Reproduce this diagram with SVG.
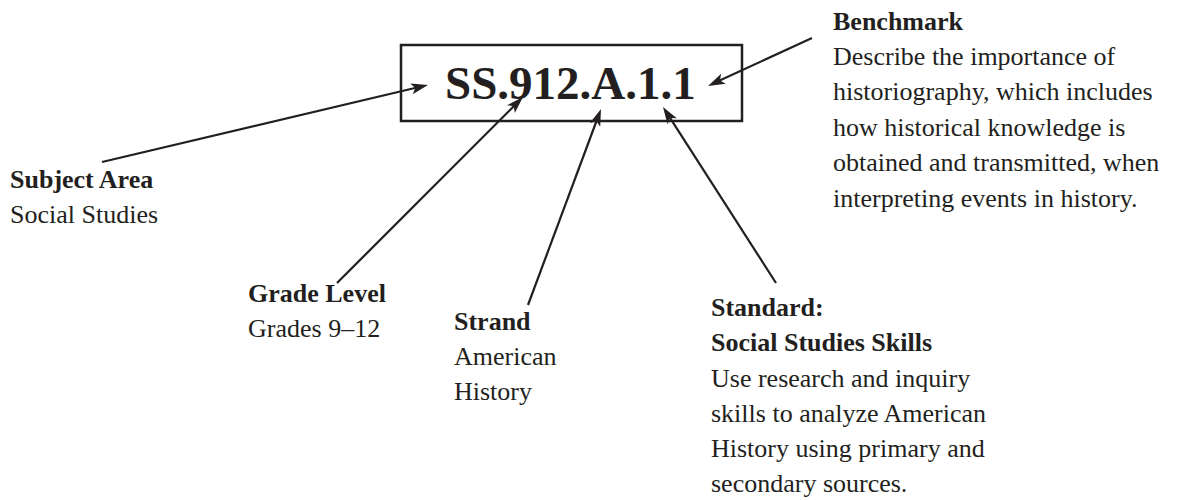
<svg xmlns="http://www.w3.org/2000/svg" width="1179" height="500" viewBox="0 0 1179 500">
<style>
text{font-family:"Liberation Serif","Times New Roman",serif;font-size:26px;fill:#231f20}
.b{font-weight:bold}
.code{font-size:47px;font-weight:bold}
.conn line{stroke:#231f20;stroke-width:2.2;fill:none}
</style>
<defs>
<marker id="ah" markerUnits="userSpaceOnUse" viewBox="-18 -7 19 14" markerWidth="19" markerHeight="14" refX="-8" refY="0" orient="auto">
<path d="M0,0 L-17,-5.5 L-13,0 L-17,5.5 Z" fill="#231f20"/>
</marker>
</defs>
<rect width="1179" height="500" fill="#fff"/>
<g id="code">
<rect x="401" y="45" width="341" height="76" fill="none" stroke="#231f20" stroke-width="2.5"/>
<text class="code" x="445" y="99">SS.912.A.1.1</text>
</g>
<g id="subject">
<text class="b" x="10" y="188">Subject Area</text>
<text x="10" y="223">Social Studies</text>
</g>
<g id="grade">
<text class="b" x="248" y="302">Grade Level</text>
<text x="248" y="337">Grades 9–12</text>
</g>
<g id="strand">
<text class="b" x="454" y="330">Strand</text>
<text x="454" y="365">American</text>
<text x="454" y="400">History</text>
</g>
<g id="standard">
<text class="b" x="711" y="316">Standard:</text>
<text class="b" x="711" y="351">Social Studies Skills</text>
<text x="711" y="387">Use research and inquiry</text>
<text x="711" y="422">skills to analyze American</text>
<text x="711" y="457">History using primary and</text>
<text x="711" y="492">secondary sources.</text>
</g>
<g id="benchmark">
<text class="b" x="833" y="30">Benchmark</text>
<text x="833" y="65">Describe the importance of</text>
<text x="833" y="100">historiography, which includes</text>
<text x="833" y="136">how historical knowledge is</text>
<text x="833" y="171">obtained and transmitted, when</text>
<text x="833" y="207">interpreting events in history.</text>
</g>
<g id="connectors" class="conn">
<line x1="102" y1="162" x2="420.2" y2="86.8" marker-end="url(#ah)"/>
<line x1="337" y1="283" x2="517.3" y2="102.7" marker-end="url(#ah)"/>
<line x1="528" y1="305" x2="598.2" y2="116.5" marker-end="url(#ah)"/>
<line x1="776" y1="283" x2="667.3" y2="113.7" marker-end="url(#ah)"/>
<line x1="812" y1="38" x2="715.3" y2="82.6" marker-end="url(#ah)"/>
</g>
</svg>
